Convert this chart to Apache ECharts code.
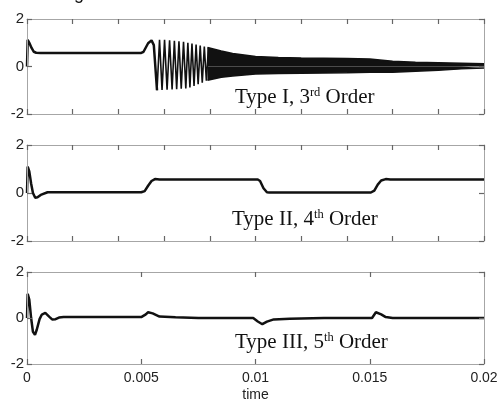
<!DOCTYPE html>
<html>
<head>
<meta charset="utf-8">
<script src="https://cdn.jsdelivr.net/npm/echarts@6/dist/echarts.min.js"></script>
<style>
    html, body { margin: 0; padding: 0; background: #fff; }
    #chart { width: 502px; height: 403px; }
</style>
</head>
<body>
<div id="chart"></div>
<script>
// 坐标轴刻度
const yTicks = [-2, 0, 2];
const xTickLabels = ['0', '0.005', '0.01', '0.015', '0.02'];

// Type I, 3rd Order: 起始段与平坦段
const typeI = [
    [0, 0.0], [0.00003, 1.12], [0.0001, 1.0], [0.0002, 0.78], [0.0003, 0.62], [0.0004, 0.58],
    [0.0006, 0.57], [0.005, 0.57], [0.0051, 0.62], [0.0052, 0.8], [0.0053, 0.98], [0.00545, 1.1],
    [0.00555, 0.9], [0.00569, -1.0]
];
// Type I: 可分辨的振荡部分
const typeIOsc = [
    [0.00569, -1.0], [0.0058, 1.12], [0.00591, -0.99], [0.00602, 1.12], [0.00613, -0.98],
    [0.00624, 1.1], [0.00635, -0.97], [0.00645, 1.08], [0.00655, -0.96], [0.00665, 1.06],
    [0.00675, -0.94], [0.00685, 1.04], [0.00695, -0.92], [0.00704, 1.0], [0.00713, -0.88],
    [0.00722, 0.97], [0.00731, -0.82], [0.0074, 0.92], [0.00749, -0.75], [0.00758, 0.88],
    [0.00767, -0.68], [0.00776, 0.84], [0.00785, -0.6], [0.00794, 0.8]
];
// Type I: 高频振荡区域的包络 (上/下)
const typeIUpper = [
    [0.0079, 0.8], [0.0085, 0.65], [0.009, 0.55], [0.01, 0.42], [0.011, 0.38], [0.012, 0.36],
    [0.013, 0.35], [0.014, 0.34], [0.015, 0.32], [0.016, 0.22], [0.017, 0.18], [0.018, 0.16],
    [0.019, 0.14], [0.02, 0.12]
];
const typeILower = [
    [0.0079, -0.58], [0.0085, -0.45], [0.009, -0.4], [0.01, -0.32], [0.011, -0.3], [0.012, -0.28],
    [0.013, -0.27], [0.014, -0.26], [0.015, -0.24], [0.016, -0.24], [0.017, -0.2], [0.018, -0.16],
    [0.019, -0.1], [0.02, -0.06]
];

// Type II, 4th Order
const typeII = [
    [0, 0.0], [0.00003, 1.1], [0.0001, 0.9], [0.00018, 0.4], [0.00026, 0.0], [0.00036, -0.2],
    [0.00046, -0.18], [0.0006, -0.08], [0.0009, 0.03], [0.005, 0.03], [0.00515, 0.08], [0.0053, 0.3],
    [0.00545, 0.5], [0.0056, 0.58], [0.0058, 0.56], [0.0101, 0.56], [0.0102, 0.5], [0.01035, 0.2],
    [0.0105, 0.03], [0.0106, 0.02], [0.01505, 0.02], [0.0152, 0.1], [0.01535, 0.35], [0.0155, 0.52],
    [0.0157, 0.58], [0.0159, 0.56], [0.02, 0.56]
];

// Type III, 5th Order
const typeIII = [
    [0, 0.0], [0.00003, 1.05], [0.0001, 0.8], [0.00018, 0.0], [0.00026, -0.6], [0.00035, -0.73],
    [0.00043, -0.5], [0.00055, -0.05], [0.00065, 0.15], [0.0008, 0.22], [0.00098, 0.05], [0.0011, -0.06],
    [0.00125, -0.05], [0.0014, 0.02], [0.0016, 0.04], [0.005, 0.04], [0.0052, 0.16], [0.0053, 0.25],
    [0.0055, 0.2], [0.0058, 0.06], [0.0065, 0.03], [0.0075, 0.0], [0.0099, 0.0], [0.0101, -0.15],
    [0.0103, -0.27], [0.0105, -0.16], [0.0108, -0.06], [0.0115, -0.03], [0.013, 0.0], [0.0151, 0.0],
    [0.01527, 0.25], [0.0155, 0.16], [0.0157, 0.04], [0.016, 0.0], [0.02, 0.0]
];

const panelLabels = [
    ['Type I, 3', 'rd', ' Order'],
    ['Type II, 4', 'th', ' Order'],
    ['Type III, 5', 'th', ' Order']
];

const chart = echarts.init(document.getElementById('chart'));

const gridBoxes = [
    {left: 27, top: 19, width: 457, height: 95},
    {left: 27, top: 145, width: 457, height: 96},
    {left: 27, top: 272, width: 457, height: 95}
];
const labelPos = [[235, 86], [232, 208], [235, 331]];

const frameColor = '#a6a6a6';
const grids = [], xAxes = [], yAxes = [];

function axisTick() {
    return {show: true, inside: true, length: 5, lineStyle: {color: '#666', width: 1.2}};
}

gridBoxes.forEach(function(g, i) {
    grids.push(Object.assign({}, g));
    const isLast = i === gridBoxes.length - 1;
    const xInterval = isLast ? 0.005 : 0.002;
    // 下/上 x 轴
    ['bottom', 'top'].forEach(function(pos) {
        const main = pos === 'bottom';
        xAxes.push({
            type: 'value', gridIndex: i, position: pos, min: 0, max: 0.02, interval: xInterval, z: 10,
            axisLine: {show: true, onZero: false, lineStyle: {color: frameColor}},
            splitLine: {show: false}, axisTick: axisTick(),
            axisLabel: {
                show: main && isLast, margin: 7, color: '#222', fontSize: 14, fontFamily: 'Liberation Sans',
                formatter: function(v) { return xTickLabels[Math.round(v / 0.005)] || ''; }
            },
            name: main && isLast ? 'time' : null,
            nameLocation: 'middle', nameGap: 24,
            nameTextStyle: {color: '#222', fontSize: 14, fontFamily: 'Liberation Sans'}
        });
    });
    // 左/右 y 轴
    ['left', 'right'].forEach(function(pos) {
        yAxes.push({
            type: 'value', gridIndex: i, position: pos, z: 10,
            min: yTicks[0], max: yTicks[yTicks.length - 1], interval: 2,
            axisLine: {show: true, onZero: false, lineStyle: {color: frameColor}},
            splitLine: {show: false}, axisTick: axisTick(),
            axisLabel: {show: pos === 'left', margin: 3, color: '#222', fontSize: 15, fontFamily: 'Liberation Sans'}
        });
    });
});

function lineSeries(data, panel, extra) {
    return Object.assign({
        type: 'line', data: data, xAxisIndex: panel * 2, yAxisIndex: panel * 2,
        showSymbol: false, silent: true, z: 2,
        lineStyle: {color: '#111', width: 2.5}
    }, extra || {});
}

const series = [
    lineSeries(typeI, 0),
    lineSeries(typeIOsc, 0, {lineStyle: {color: '#111', width: 1.6}}),
    lineSeries(typeIUpper, 0, {lineStyle: {color: '#111', width: 1.5}, areaStyle: {color: '#111', opacity: 1}}),
    lineSeries(typeILower, 0, {lineStyle: {color: '#111', width: 1.5}, areaStyle: {color: '#111', opacity: 1}}),
    lineSeries(typeII, 1),
    lineSeries(typeIII, 2)
];
// 上轴和右轴挂空序列
[0, 1, 2].forEach(function(i) {
    series.push({type: 'line', data: [], xAxisIndex: i * 2 + 1, yAxisIndex: i * 2 + 1, silent: true});
});

const graphics = panelLabels.map(function(p, i) {
    return {
        type: 'text', left: labelPos[i][0], top: labelPos[i][1], z: 100,
        style: {
            text: '{a|' + p[0] + '}{s|' + p[1] + '}{a|' + p[2] + '}',
            rich: {
                a: {fontFamily: 'Liberation Serif', fontSize: 21, lineHeight: 22, fill: '#111'},
                s: {fontFamily: 'Liberation Serif', fontSize: 12.5, lineHeight: 12, verticalAlign: 'top', fill: '#111'}
            }
        }
    };
});
// 顶部被裁切的文字残迹
graphics.push({type: 'text', left: 74, top: -15, style: {text: 'g', fontFamily: 'Liberation Sans', fontSize: 18, fill: '#111'}});

chart.setOption({
    animation: false,
    grid: grids,
    xAxis: xAxes,
    yAxis: yAxes,
    series: series,
    graphic: graphics
});

window.addEventListener('resize', function() { chart.resize(); });
</script>
</body>
</html>
